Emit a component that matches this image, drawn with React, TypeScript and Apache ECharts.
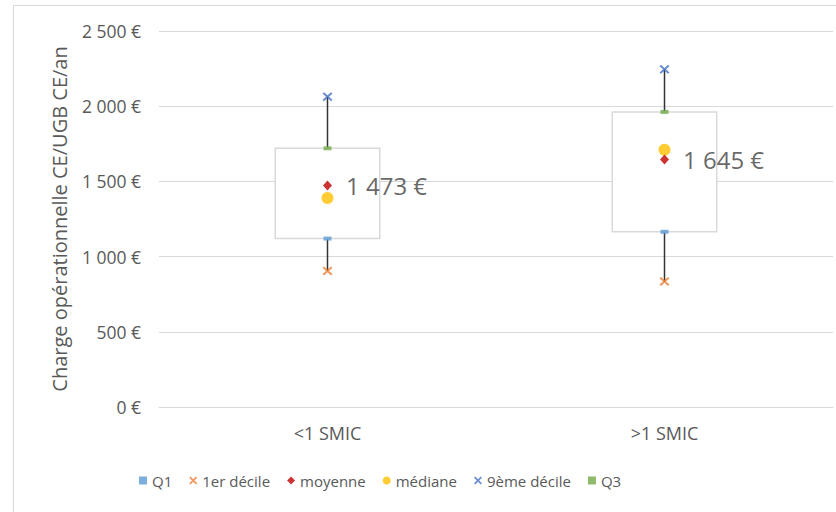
import React, { useEffect, useRef } from "react";
import * as echarts from "echarts";

const categories = ["<1 SMIC", ">1 SMIC"];
const q1 = [1120, 1165];
const decile1 = [905, 835];
const moyenne = [1473, 1645];
const mediane = [1390, 1710];
const decile9 = [2063, 2245];
const q3 = [1720, 1962];
const yTicks = { min: 0, max: 2500, interval: 500 };

const FONT = "Open Sans";
const fmt = (v: number) =>
  String(Math.round(v)).replace(/\B(?=(\d{3})+(?!\d))/g, " ") + " €";

const X_PATH =
  "path://M0,1.5 L1.5,0 L5,3.5 L8.5,0 L10,1.5 L6.5,5 L10,8.5 L8.5,10 L5,6.5 L1.5,10 L0,8.5 L3.5,5 Z";

export default function App() {
  const ref = useRef<HTMLDivElement>(null);
  useEffect(() => {
    if (!ref.current) return;
    const chart = echarts.init(ref.current, null, { renderer: "svg" });
    const boxData = categories.map((_, i) => [i, decile1[i], q1[i], q3[i], decile9[i]]);
    chart.setOption({
      animation: false,
      textStyle: { fontFamily: FONT },
      graphic: [
        {
          type: "rect",
          z: -10,
          shape: { x: 13.5, y: 5.5, width: 840, height: 520 },
          style: { fill: "none", stroke: "#d9d9d9", lineWidth: 1 },
        },
      ],
      grid: { left: 159, right: 3, top: 31, bottom: 105 },
      legend: {
        left: 139,
        top: 473,
        itemGap: 17,
        itemWidth: 8,
        itemHeight: 8,
        padding: 0,
        textStyle: { fontSize: 15, color: "#595959", fontFamily: FONT },
        data: [
          { name: "Q1", icon: "rect" },
          { name: "1er décile", icon: X_PATH },
          { name: "moyenne", icon: "diamond" },
          { name: "médiane", icon: "circle" },
          { name: "9ème décile", icon: X_PATH },
          { name: "Q3", icon: "rect" },
        ],
      },
      xAxis: {
        type: "category",
        data: categories,
        axisTick: { show: false },
        axisLine: { show: true, lineStyle: { color: "#d9d9d9" } },
        axisLabel: { margin: 17, fontSize: 18, color: "#595959", fontFamily: FONT },
      },
      yAxis: {
        type: "value",
        ...yTicks,
        name: "Charge opérationnelle CE/UGB CE/an",
        nameLocation: "middle",
        nameGap: 90,
        nameTextStyle: { fontSize: 20, color: "#595959", fontFamily: FONT },
        axisLine: { show: false },
        axisTick: { show: false },
        splitLine: { lineStyle: { color: "#d9d9d9", width: 1 } },
        axisLabel: {
          margin: 18,
          fontSize: 17.5,
          color: "#595959",
          fontFamily: FONT,
          formatter: (v: number) => fmt(v),
        },
      },
      series: [
        {
          type: "custom",
          name: "box",
          data: boxData,
          encode: { x: 0, y: [1, 2, 3, 4] },
          z: 1,
          renderItem: (params: any, api: any) => {
            const x = api.value(0);
            const pD1 = api.coord([x, api.value(1)]);
            const pQ1 = api.coord([x, api.value(2)]);
            const pQ3 = api.coord([x, api.value(3)]);
            const pD9 = api.coord([x, api.value(4)]);
            const bw = api.size([1, 0])[0] * 0.31;
            return {
              type: "group",
              children: [
                {
                  type: "line",
                  shape: { x1: pD1[0], y1: pD1[1], x2: pQ1[0], y2: pQ1[1] },
                  style: { stroke: "#333333", lineWidth: 1.5 },
                },
                {
                  type: "line",
                  shape: { x1: pQ3[0], y1: pQ3[1], x2: pD9[0], y2: pD9[1] },
                  style: { stroke: "#333333", lineWidth: 1.5 },
                },
                {
                  type: "rect",
                  shape: { x: pQ1[0] - bw / 2, y: pQ3[1], width: bw, height: pQ1[1] - pQ3[1] },
                  style: { fill: "#ffffff", stroke: "#d9d9d9", lineWidth: 1.5 },
                },
              ],
            };
          },
        },
        {
          type: "scatter",
          name: "Q1",
          data: q1,
          symbol: "rect",
          symbolSize: [8, 4],
          itemStyle: { color: "#5b9bd5" },
          z: 3,
        },
        {
          type: "scatter",
          name: "1er décile",
          data: decile1,
          symbol: X_PATH,
          symbolSize: [10, 9],
          itemStyle: { color: "#ed7d31" },
          z: 3,
        },
        {
          type: "scatter",
          name: "moyenne",
          data: moyenne,
          symbol: "diamond",
          symbolSize: [9, 10],
          itemStyle: { color: "#c00000" },
          z: 4,
          label: {
            show: true,
            position: "right",
            distance: 14,
            fontSize: 24,
            color: "#404040",
            fontFamily: FONT,
            formatter: (p: any) => fmt(Array.isArray(p.value) ? p.value[1] : p.value),
          },
        },
        {
          type: "scatter",
          name: "médiane",
          data: mediane,
          symbol: "circle",
          symbolSize: 12,
          itemStyle: { color: "#ffc000" },
          z: 3,
        },
        {
          type: "scatter",
          name: "9ème décile",
          data: decile9,
          symbol: X_PATH,
          symbolSize: [10, 9],
          itemStyle: { color: "#4472c4" },
          z: 3,
        },
        {
          type: "scatter",
          name: "Q3",
          data: q3,
          symbol: "rect",
          symbolSize: [8, 4],
          itemStyle: { color: "#70ad47" },
          z: 3,
        },
      ],
    });
    return () => chart.dispose();
  }, []);
  return (
    <div
      ref={ref}
      style={{ position: "fixed", left: 0, top: 0, width: 836, height: 512, background: "#fff" }}
    />
  );
}
